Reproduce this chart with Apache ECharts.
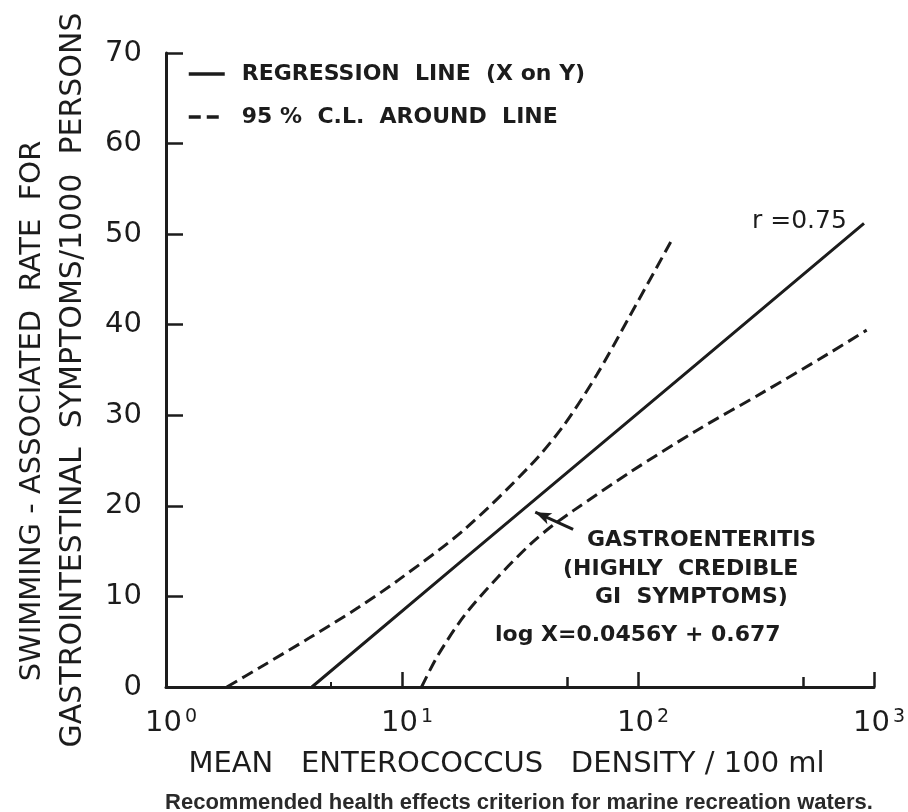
<!DOCTYPE html>
<html>
<head>
<meta charset="utf-8">
<script src="https://cdn.jsdelivr.net/npm/echarts@6/dist/echarts.min.js"></script>
<style>html,body{margin:0;padding:0;background:#fff;}#chart{width:908px;height:812px;}</style>
</head>
<body>
<div id="chart"></div>
<script>
// ---- data ----
// regression line (X on Y): [density X, rate Y]
const regressionLine = [[4.15, 0], [17.3, 13.6], [176, 35.6], [907, 51.2]];
// 95% confidence limits around the line
const clUpper = [[1.81, 0], [2.48, 2.1], [4.04, 5.4], [6.55, 8.8], [9.64, 11.8], [18.4, 17.4], [35.1, 24.5], [48.5, 28.9], [67.0, 34.5], [92.5, 41.0], [138, 49.2]];
const clLower = [[12.1, 0], [14.2, 3.5], [18.4, 7.9], [25.4, 12.1], [35.1, 15.8], [43.3, 17.8], [53.4, 19.5], [92.4, 23.7], [176.6, 28.3], [337, 32.5], [641, 36.8], [931, 39.4]];
// arrow pointing at the regression line: [tail, tip]
const arrowPoints = [[53.1, 17.4], [36.7, 19.3]];
// axis ticks
const xMajorTicks = [1, 10, 100, 1000];
const xTickBase = '10';
const xTickExponents = ['0', '1', '2', '3'];
const xMinorTicks = [50, 500];
const xSmallTicks = [5];
const yTicks = [0, 10, 20, 30, 40, 50, 60, 70];
// texts
const legendNames = ['REGRESSION  LINE  (X on Y)', '95 %  C.L.  AROUND  LINE'];
const xTitle = 'MEAN   ENTEROCOCCUS   DENSITY / 100 ml';
const yTitle1 = 'SWIMMING - ASSOCIATED  RATE  FOR';
const yTitle2 = 'GASTROINTESTINAL  SYMPTOMS/1000  PERSONS';
const annotR = 'r =0.75';
const annotLines = ['GASTROENTERITIS', '(HIGHLY  CREDIBLE', 'GI  SYMPTOMS)'];
const annotEq = 'log X=0.0456Y + 0.677';
const caption = 'Recommended health effects criterion for marine recreation waters.';

const INK = '#1c1c1c';
const FONT = '"DejaVu Sans", sans-serif';

const chart = echarts.init(document.getElementById('chart'), null, {renderer: 'canvas'});

const baseX = {
  type: 'log', logBase: 10, min: 1, max: 1000, gridIndex: 0, position: 'bottom',
  splitLine: {show: false}, minorTick: {show: false}, minorSplitLine: {show: false}
};

const option = {
  backgroundColor: '#fff',
  animation: false,
  grid: {left: 166, right: 29, top: 53, bottom: 125, containLabel: false},
  legend: {
    orient: 'vertical', left: 182, top: 58, itemGap: 21, itemWidth: 36, itemHeight: 14,
    data: legendNames,
    itemStyle: {opacity: 0},
    lineStyle: {width: 3.5},
    textStyle: {fontFamily: FONT, fontSize: 22, fontWeight: 'bold', color: INK, padding: [0, 0, 0, 12]}
  },
  xAxis: [
    Object.assign({}, baseX, {
      axisLine: {show: true, lineStyle: {color: INK, width: 3}},
      axisTick: {show: true, inside: true, length: 15, lineStyle: {color: INK, width: 2.5}, customValues: xMajorTicks},
      axisLabel: {
        show: true, margin: 21, customValues: xMajorTicks,
        formatter: function (v) {
          const i = xMajorTicks.indexOf(v);
          return '{b|' + xTickBase + '}{s|' + xTickExponents[i] + '}';
        },
        rich: {
          b: {fontFamily: FONT, fontSize: 29, color: INK, padding: [0, 0, 0, 10], lineHeight: 30},
          s: {fontFamily: FONT, fontSize: 19, color: INK, verticalAlign: 'top', lineHeight: 18, padding: [0, 0, 0, 3]}
        }
      },
      name: xTitle, nameLocation: 'middle', nameGap: 63,
      nameTextStyle: {fontFamily: FONT, fontSize: 29, color: INK, padding: [0, 27, 0, 0]}
    }),
    Object.assign({}, baseX, {
      axisLine: {show: false},
      axisTick: {show: true, inside: true, length: 10, lineStyle: {color: INK, width: 2.5}, customValues: xMinorTicks},
      axisLabel: {show: false}
    }),
    Object.assign({}, baseX, {
      axisLine: {show: false},
      axisTick: {show: true, inside: true, length: 5, lineStyle: {color: INK, width: 2}, customValues: xSmallTicks},
      axisLabel: {show: false}
    })
  ],
  yAxis: {
    type: 'value', min: 0, max: 70, interval: 10,
    axisLine: {show: true, lineStyle: {color: INK, width: 3}},
    axisTick: {show: true, inside: true, length: 17, lineStyle: {color: INK, width: 2.5}, customValues: yTicks},
    axisLabel: {show: true, margin: 24, fontFamily: FONT, fontSize: 29, color: INK, customValues: yTicks},
    splitLine: {show: false}
  },
  series: [
    {
      name: legendNames[0], type: 'line', data: regressionLine, symbol: 'none', showSymbol: false,
      lineStyle: {color: INK, width: 3, type: 'solid'}, itemStyle: {color: INK},
      markLine: {
        silent: true, symbol: ['none', 'arrow'], symbolSize: [9, 16],
        lineStyle: {color: INK, width: 3, type: 'solid'}, label: {show: false},
        data: [[{coord: arrowPoints[0]}, {coord: arrowPoints[1]}]]
      }
    },
    {
      name: legendNames[1], type: 'line', data: clUpper, symbol: 'none', showSymbol: false, smooth: 0.3,
      lineStyle: {color: INK, width: 3, type: [12, 6]}, itemStyle: {color: INK}
    },
    {
      name: legendNames[1], type: 'line', data: clLower, symbol: 'none', showSymbol: false, smooth: 0.3,
      lineStyle: {color: INK, width: 3, type: [12, 6]}, itemStyle: {color: INK}
    }
  ],
  graphic: [
    {type: 'text', x: 32, y: 411, rotation: Math.PI / 2,
     style: {text: yTitle1, fontFamily: FONT, fontSize: 29, fill: INK, align: 'center', verticalAlign: 'middle'}},
    {type: 'text', x: 73, y: 380, rotation: Math.PI / 2,
     style: {text: yTitle2, fontFamily: FONT, fontSize: 30, fill: INK, align: 'center', verticalAlign: 'middle'}},
    {type: 'text', x: 752, y: 221,
     style: {text: annotR, fontFamily: FONT, fontSize: 25, fill: INK, align: 'left', verticalAlign: 'middle'}},
    {type: 'text', x: 587, y: 540,
     style: {text: annotLines[0], fontFamily: FONT, fontSize: 22, fontWeight: 'bold', fill: INK, align: 'left', verticalAlign: 'middle'}},
    {type: 'text', x: 563, y: 569,
     style: {text: annotLines[1], fontFamily: FONT, fontSize: 22, fontWeight: 'bold', fill: INK, align: 'left', verticalAlign: 'middle'}},
    {type: 'text', x: 595, y: 597,
     style: {text: annotLines[2], fontFamily: FONT, fontSize: 22, fontWeight: 'bold', fill: INK, align: 'left', verticalAlign: 'middle'}},
    {type: 'text', x: 495, y: 635,
     style: {text: annotEq, fontFamily: FONT, fontSize: 22, fontWeight: 'bold', fill: INK, align: 'left', verticalAlign: 'middle'}},
    {type: 'text', x: 519, y: 803,
     style: {text: caption, fontFamily: '"Liberation Sans", Arial, sans-serif', fontWeight: 'bold', fontSize: 22, fill: '#2a2a2a', align: 'center', verticalAlign: 'middle'}}
  ]
};
chart.setOption(option);
</script>
</body>
</html>
